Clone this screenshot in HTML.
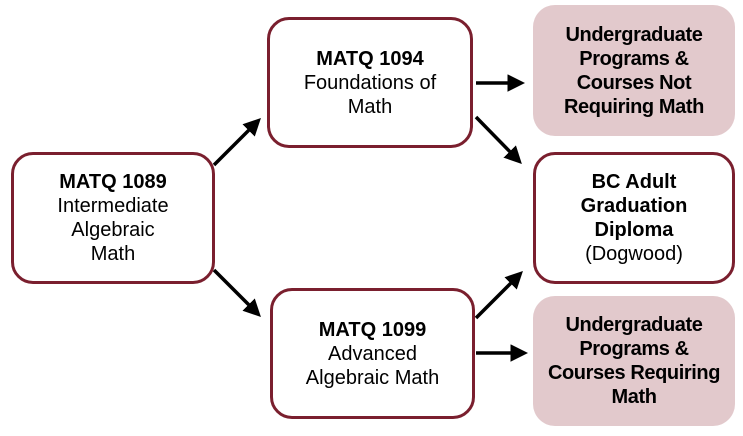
<!DOCTYPE html>
<html><head><meta charset="utf-8"><style>
body{margin:0;width:743px;height:436px;background:#fff;position:relative;overflow:hidden;font-family:"Liberation Sans",sans-serif;}
.b{position:absolute;box-sizing:border-box;border:3px solid #7a1f2e;border-radius:22px;background:#fff;display:flex;align-items:center;justify-content:center;text-align:center;font-size:20px;line-height:24px;color:#000;}
.p{background:#e2c9cc;border:none;font-weight:bold;letter-spacing:-0.4px;}
b{font-weight:bold}
svg{position:absolute;left:0;top:0}
</style></head><body>
<svg width="743" height="436">
<defs><marker id="a" markerWidth="5" markerHeight="5" refX="3" refY="2.5" orient="auto"><path d="M0,0 L5,2.5 L0,5 z" fill="#000"/></marker></defs>
<g stroke="#000" stroke-width="3.5" marker-end="url(#a)">
<line x1="214" y1="165" x2="256" y2="123"/>
<line x1="214" y1="270" x2="256" y2="312"/>
<line x1="476" y1="83" x2="518" y2="83"/>
<line x1="476" y1="117" x2="517" y2="159"/>
<line x1="476" y1="318" x2="518" y2="276"/>
<line x1="476" y1="353" x2="521" y2="353"/>
</g></svg>
<div class="b" style="left:11px;top:152px;width:204px;height:132px"><div><b>MATQ 1089</b><br>Intermediate<br>Algebraic<br>Math</div></div>
<div class="b" style="left:267px;top:17px;width:206px;height:131px"><div><b>MATQ 1094</b><br>Foundations of<br>Math</div></div>
<div class="b" style="left:270px;top:288px;width:205px;height:131px"><div><b>MATQ 1099</b><br>Advanced<br>Algebraic Math</div></div>
<div class="b p" style="left:533px;top:5px;width:202px;height:131px"><div>Undergraduate<br>Programs &amp;<br>Courses Not<br>Requiring Math</div></div>
<div class="b" style="left:533px;top:152px;width:202px;height:132px"><div><b>BC Adult<br>Graduation<br>Diploma</b><br>(Dogwood)</div></div>
<div class="b p" style="left:533px;top:296px;width:202px;height:130px"><div>Undergraduate<br>Programs &amp;<br>Courses Requiring<br>Math</div></div>
</body></html>
